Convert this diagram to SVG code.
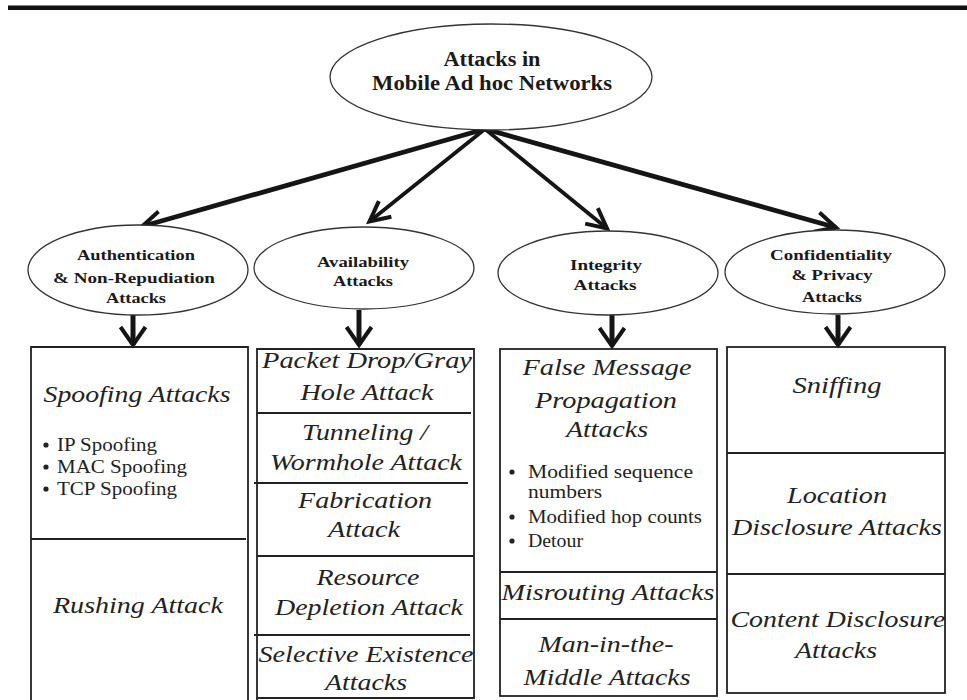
<svg xmlns="http://www.w3.org/2000/svg" width="967" height="700" viewBox="0 0 967 700">
  <style>
    .bg { fill: #ffffff; }
    .rule { stroke: #111; stroke-width: 4.5; }
    .oval { fill: #ffffff; stroke: #333; stroke-width: 1.3; }
    .box { fill: none; stroke: #222; stroke-width: 1.8; }
    .sep { stroke: #222; stroke-width: 1.8; }
    .lbl { font-family: "Liberation Serif", "Times New Roman", serif; font-weight: bold; font-size: 15.5px; fill: #1a1a1a; text-anchor: middle; }
    .title { font-family: "Liberation Serif", "Times New Roman", serif; font-weight: bold; font-size: 20px; fill: #1a1a1a; text-anchor: middle; }
    .it { font-family: "Liberation Serif", "Times New Roman", serif; font-style: italic; font-size: 24px; fill: #222; text-anchor: middle; }
    .li { font-family: "Liberation Serif", "Times New Roman", serif; font-size: 18px; fill: #222; }
    .dot { fill: #222; }
    .edge { stroke: #151515; fill: none; stroke-linecap: butt; }
    .head { stroke: #151515; stroke-width: 4; fill: none; stroke-linejoin: miter; stroke-miterlimit: 10; }
  </style>
  <defs>
    <marker id="chev" markerUnits="userSpaceOnUse" markerWidth="30" markerHeight="30" viewBox="-26 -15 30 30" refX="0" refY="0" orient="auto" overflow="visible">
      <path class="head" d="M-20,-10 L0,0 L-20,10"/>
    </marker>
    <marker id="down" markerUnits="userSpaceOnUse" markerWidth="30" markerHeight="30" viewBox="-26 -15 30 30" refX="0" refY="0" orient="auto" overflow="visible">
      <path class="head" d="M-18,-12.5 L0,0 L-18,12.5"/>
    </marker>
  </defs>

  <rect class="bg" x="0" y="0" width="967" height="700"/>
  <line class="rule" x1="8" y1="7.8" x2="967" y2="7.8"/>

  <!-- connectors -->
  <g id="connectors">
    <line class="edge" style="stroke-width:4.8" x1="485" y1="129" x2="142" y2="226.5" marker-end="url(#chev)"/>
    <line class="edge" style="stroke-width:3.8" x1="485" y1="129" x2="369.5" y2="221.5" marker-end="url(#chev)"/>
    <line class="edge" style="stroke-width:3.8" x1="485" y1="129" x2="607" y2="228.5" marker-end="url(#chev)"/>
    <line class="edge" style="stroke-width:4.8" x1="485" y1="129" x2="836" y2="227.5" marker-end="url(#chev)"/>
    <line class="edge" style="stroke-width:5" x1="133" y1="315" x2="133" y2="345" marker-end="url(#down)"/>
    <line class="edge" style="stroke-width:5" x1="359" y1="310" x2="359" y2="345" marker-end="url(#down)"/>
    <line class="edge" style="stroke-width:5" x1="612" y1="315" x2="612" y2="346" marker-end="url(#down)"/>
    <line class="edge" style="stroke-width:5" x1="838" y1="315" x2="838" y2="345" marker-end="url(#down)"/>
  </g>

  <!-- root -->
  <g id="n-root">
    <ellipse class="oval" cx="491" cy="77" rx="161" ry="53"/>
    <text class="title" x="492" y="66" textLength="97" lengthAdjust="spacingAndGlyphs">Attacks in</text>
    <text class="title" x="492" y="90" textLength="240" lengthAdjust="spacingAndGlyphs">Mobile Ad hoc Networks</text>
  </g>

  <!-- category ovals -->
  <g id="n-auth">
    <ellipse class="oval" cx="138" cy="270" rx="110" ry="45"/>
    <text class="lbl" x="136" y="260" textLength="118" lengthAdjust="spacingAndGlyphs">Authentication</text>
    <text class="lbl" x="134" y="283" textLength="162" lengthAdjust="spacingAndGlyphs">&amp; Non-Repudiation</text>
    <text class="lbl" x="136" y="303" textLength="60" lengthAdjust="spacingAndGlyphs">Attacks</text>
  </g>
  <g id="n-avail">
    <ellipse class="oval" cx="364" cy="268" rx="110" ry="41"/>
    <text class="lbl" x="363" y="267" textLength="92" lengthAdjust="spacingAndGlyphs">Availability</text>
    <text class="lbl" x="363" y="286" textLength="60" lengthAdjust="spacingAndGlyphs">Attacks</text>
  </g>
  <g id="n-integ">
    <ellipse class="oval" cx="608" cy="273" rx="110" ry="42"/>
    <text class="lbl" x="606" y="270" textLength="72" lengthAdjust="spacingAndGlyphs">Integrity</text>
    <text class="lbl" x="605" y="290" textLength="63" lengthAdjust="spacingAndGlyphs">Attacks</text>
  </g>
  <g id="n-conf">
    <ellipse class="oval" cx="835" cy="272" rx="110" ry="42"/>
    <text class="lbl" x="831" y="260" textLength="122" lengthAdjust="spacingAndGlyphs">Confidentiality</text>
    <text class="lbl" x="832" y="280" textLength="81" lengthAdjust="spacingAndGlyphs">&amp; Privacy</text>
    <text class="lbl" x="832" y="302" textLength="60" lengthAdjust="spacingAndGlyphs">Attacks</text>
  </g>

  <!-- authentication list -->
  <g id="b-auth">
    <path class="box" d="M31,700 V347 H248 V700"/>
    <line class="sep" x1="31" y1="539" x2="246" y2="539"/>
    <text class="it" x="137" y="402" textLength="187" lengthAdjust="spacingAndGlyphs">Spoofing Attacks</text>
    <circle class="dot" cx="46" cy="445" r="2.6"/>
    <text class="li" x="57" y="451" textLength="100" lengthAdjust="spacingAndGlyphs">IP Spoofing</text>
    <circle class="dot" cx="46" cy="467" r="2.6"/>
    <text class="li" x="57" y="473" textLength="130" lengthAdjust="spacingAndGlyphs">MAC Spoofing</text>
    <circle class="dot" cx="46" cy="489" r="2.6"/>
    <text class="li" x="57" y="495" textLength="120" lengthAdjust="spacingAndGlyphs">TCP Spoofing</text>
    <text class="it" x="138" y="613" textLength="170" lengthAdjust="spacingAndGlyphs">Rushing Attack</text>
  </g>

  <!-- availability list -->
  <g id="b-avail">
    <path class="box" d="M257,700 V349 H474 V698 H257"/>
    <line class="sep" x1="257" y1="413" x2="471" y2="413"/>
    <line class="sep" x1="254" y1="483" x2="468" y2="483"/>
    <line class="sep" x1="257" y1="556" x2="474" y2="556"/>
    <line class="sep" x1="254" y1="635" x2="470" y2="635"/>
    <text class="it" x="367" y="368" textLength="210" lengthAdjust="spacingAndGlyphs">Packet Drop/Gray</text>
    <text class="it" x="367" y="400" textLength="133" lengthAdjust="spacingAndGlyphs">Hole Attack</text>
    <text class="it" x="365" y="440" textLength="126" lengthAdjust="spacingAndGlyphs">Tunneling /</text>
    <text class="it" x="366" y="470" textLength="192" lengthAdjust="spacingAndGlyphs">Wormhole Attack</text>
    <text class="it" x="365" y="508" textLength="134" lengthAdjust="spacingAndGlyphs">Fabrication</text>
    <text class="it" x="364" y="537" textLength="72" lengthAdjust="spacingAndGlyphs">Attack</text>
    <text class="it" x="368" y="585" textLength="103" lengthAdjust="spacingAndGlyphs">Resource</text>
    <text class="it" x="369" y="615" textLength="188" lengthAdjust="spacingAndGlyphs">Depletion Attack</text>
    <text class="it" x="366" y="662" textLength="215" lengthAdjust="spacingAndGlyphs">Selective Existence</text>
    <text class="it" x="366" y="690" textLength="82" lengthAdjust="spacingAndGlyphs">Attacks</text>
  </g>

  <!-- integrity list -->
  <g id="b-integ">
    <rect class="box" x="500" y="349" width="217" height="347"/>
    <line class="sep" x1="500" y1="572" x2="717" y2="572"/>
    <line class="sep" x1="500" y1="619" x2="717" y2="619"/>
    <text class="it" x="607" y="375" textLength="169" lengthAdjust="spacingAndGlyphs">False Message</text>
    <text class="it" x="606" y="408" textLength="142" lengthAdjust="spacingAndGlyphs">Propagation</text>
    <text class="it" x="607" y="437" textLength="82" lengthAdjust="spacingAndGlyphs">Attacks</text>
    <circle class="dot" cx="512" cy="472" r="2.6"/>
    <text class="li" x="528" y="478" textLength="165" lengthAdjust="spacingAndGlyphs">Modified sequence</text>
    <text class="li" x="528" y="498" textLength="74" lengthAdjust="spacingAndGlyphs">numbers</text>
    <circle class="dot" cx="512" cy="517" r="2.6"/>
    <text class="li" x="528" y="523" textLength="174" lengthAdjust="spacingAndGlyphs">Modified hop counts</text>
    <circle class="dot" cx="512" cy="541" r="2.6"/>
    <text class="li" x="528" y="547" textLength="55" lengthAdjust="spacingAndGlyphs">Detour</text>
    <text class="it" x="608" y="600" textLength="213" lengthAdjust="spacingAndGlyphs">Misrouting Attacks</text>
    <text class="it" x="606" y="652" textLength="135" lengthAdjust="spacingAndGlyphs">Man-in-the-</text>
    <text class="it" x="607" y="685" textLength="167" lengthAdjust="spacingAndGlyphs">Middle Attacks</text>
  </g>

  <!-- confidentiality list -->
  <g id="b-conf">
    <rect class="box" x="727" y="347" width="218" height="346"/>
    <line class="sep" x1="727" y1="453" x2="945" y2="453"/>
    <line class="sep" x1="727" y1="574" x2="945" y2="574"/>
    <text class="it" x="837" y="393" textLength="89" lengthAdjust="spacingAndGlyphs">Sniffing</text>
    <text class="it" x="837" y="503" textLength="100" lengthAdjust="spacingAndGlyphs">Location</text>
    <text class="it" x="837" y="535" textLength="210" lengthAdjust="spacingAndGlyphs">Disclosure Attacks</text>
    <text class="it" x="838" y="627" textLength="215" lengthAdjust="spacingAndGlyphs">Content Disclosure</text>
    <text class="it" x="836" y="658" textLength="82" lengthAdjust="spacingAndGlyphs">Attacks</text>
  </g>
</svg>
